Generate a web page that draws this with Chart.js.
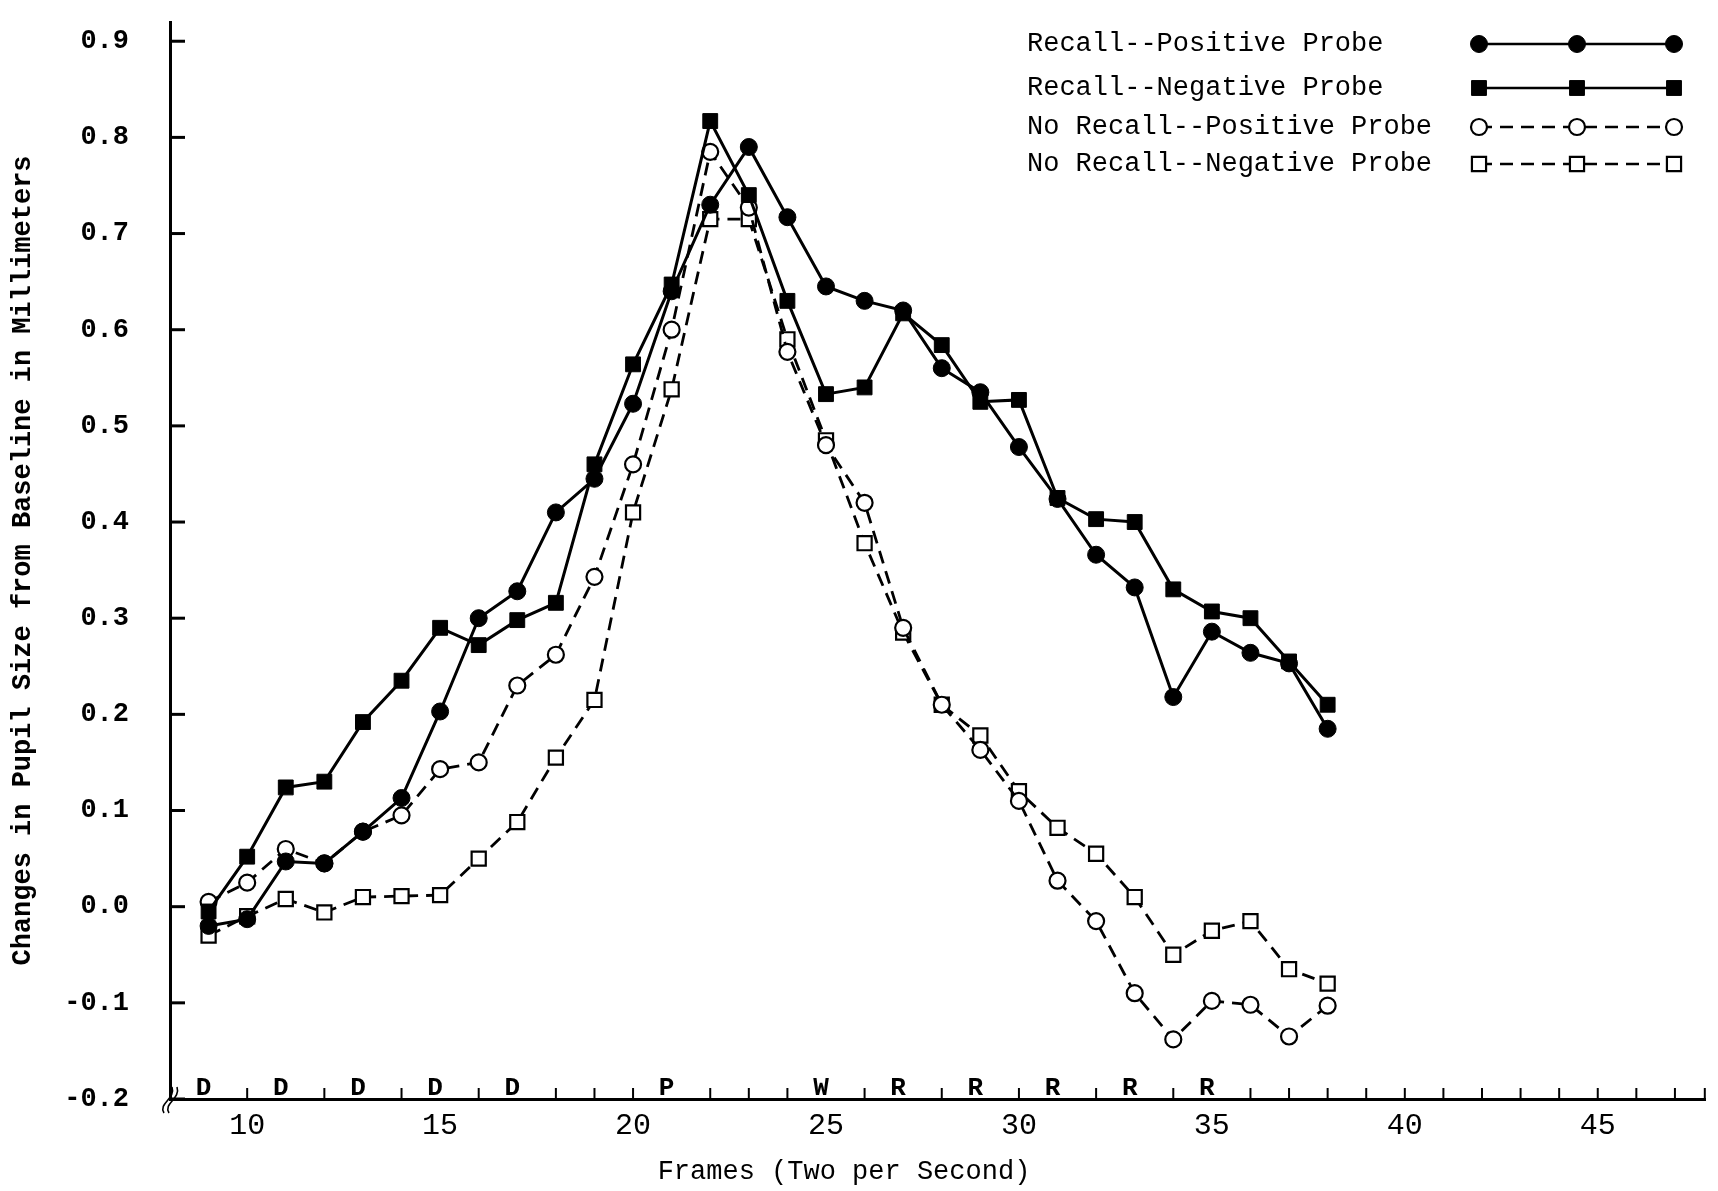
<!DOCTYPE html>
<html>
<head>
<meta charset="utf-8">
<script src="https://cdn.jsdelivr.net/npm/chart.js@4"></script>
<style>
  html, body { margin: 0; padding: 0; background: #fff; }
  canvas { display: block; }
</style>
</head>
<body>
<canvas id="myChart" width="1718" height="1191"></canvas>
<script>
const frames = [9, 10, 11, 12, 13, 14, 15, 16, 17, 18, 19, 20, 21, 22, 23, 24, 25, 26, 27, 28, 29, 30, 31, 32, 33, 34, 35, 36, 37, 38];

const recallPos = [-0.02, -0.013, 0.047, 0.045, 0.078, 0.113, 0.203, 0.30, 0.328, 0.41, 0.445, 0.523, 0.64, 0.73, 0.79, 0.717, 0.645, 0.63, 0.62, 0.56, 0.535, 0.478, 0.424, 0.366, 0.332, 0.218, 0.286, 0.264, 0.253, 0.185];
const recallNeg = [-0.005, 0.052, 0.124, 0.13, 0.192, 0.235, 0.29, 0.272, 0.298, 0.316, 0.46, 0.564, 0.647, 0.817, 0.74, 0.63, 0.533, 0.54, 0.617, 0.584, 0.525, 0.527, 0.425, 0.403, 0.40, 0.33, 0.307, 0.30, 0.255, 0.21];
const noRecallPos = [0.005, 0.025, 0.06, 0.045, 0.078, 0.095, 0.143, 0.15, 0.23, 0.262, 0.343, 0.46, 0.60, 0.785, 0.727, 0.577, 0.48, 0.42, 0.29, 0.21, 0.163, 0.11, 0.027, -0.015, -0.09, -0.138, -0.098, -0.102, -0.135, -0.103];
const noRecallNeg = [-0.03, -0.01, 0.008, -0.006, 0.01, 0.011, 0.012, 0.05, 0.088, 0.155, 0.215, 0.41, 0.538, 0.715, 0.715, 0.59, 0.485, 0.378, 0.285, 0.21, 0.178, 0.12, 0.082, 0.055, 0.01, -0.05, -0.025, -0.015, -0.065, -0.08];

const yTickValues = [-0.2, -0.1, 0.0, 0.1, 0.2, 0.3, 0.4, 0.5, 0.6, 0.7, 0.8, 0.9];
const xTickValues = [10, 15, 20, 25, 30, 35, 40, 45];
const eventFrames = [9, 11, 13, 15, 17, 21, 25, 27, 29, 31, 33, 35];
const eventLabels = ['D', 'D', 'D', 'D', 'D', 'P', 'W', 'R', 'R', 'R', 'R', 'R'];

const seriesNames = ['Recall--Positive Probe', 'Recall--Negative Probe', 'No Recall--Positive Probe', 'No Recall--Negative Probe'];

const MONO = '"Liberation Mono", "DejaVu Sans Mono", monospace';

function points(vals) {
  return frames.map((f, i) => ({ x: f, y: vals[i] }));
}

// tick marks, event letters, axis break, x title and legend
const decor = {
  id: 'decor',
  afterDraw(chart) {
    const ctx = chart.ctx;
    const xs = chart.scales.x;
    const ys = chart.scales.y;
    const axisY = ys.getPixelForValue(-0.2);
    const axisX = xs.left;
    ctx.save();
    ctx.strokeStyle = '#000';
    ctx.fillStyle = '#000';

    // y ticks pointing inward
    ctx.lineWidth = 3;
    yTickValues.forEach(v => {
      const y = ys.getPixelForValue(v);
      ctx.beginPath();
      ctx.moveTo(axisX, y);
      ctx.lineTo(axisX + 15, y);
      ctx.stroke();
    });

    // x ticks pointing up, except where there is a letter
    ctx.lineWidth = 2;
    for (let v = 9; v <= xs.max; v++) {
      if (eventFrames.includes(v)) continue;
      const x = xs.getPixelForValue(v);
      ctx.beginPath();
      ctx.moveTo(x, axisY);
      ctx.lineTo(x, axisY - 11);
      ctx.stroke();
    }
    ctx.beginPath();
    ctx.moveTo(xs.right - 1, axisY);
    ctx.lineTo(xs.right - 1, axisY - 11);
    ctx.stroke();

    // event letters
    ctx.font = 'bold 26px ' + MONO;
    ctx.textAlign = 'center';
    ctx.textBaseline = 'alphabetic';
    eventFrames.forEach((f, i) => {
      ctx.fillText(eventLabels[i], xs.getPixelForValue(f) - 5, axisY - 4);
    });

    // axis break
    ctx.lineWidth = 1.6;
    [0, 5].forEach(dx => {
      ctx.beginPath();
      ctx.moveTo(axisX - 6 + dx, axisY + 14);
      ctx.bezierCurveTo(axisX - 12 + dx, axisY + 4, axisX + 6 + dx, axisY, axisX + 2 + dx, axisY - 12);
      ctx.stroke();
    });

    // x axis title
    ctx.font = '27px ' + MONO;
    ctx.textBaseline = 'middle';
    ctx.fillText('Frames (Two per Second)', 844, 1172);

    // legend
    const rows = [44, 88, 127, 164];
    const styles = chart.data.datasets;
    ctx.textAlign = 'left';
    rows.forEach((y, i) => {
      const ds = styles[i];
      ctx.fillStyle = '#000';
      ctx.strokeStyle = '#000';
      ctx.font = '27px ' + MONO;
      ctx.fillText(seriesNames[i], 1027, y);
      ctx.lineWidth = 2.5;
      ctx.setLineDash(ds.borderDash || []);
      ctx.beginPath();
      ctx.moveTo(1479, y);
      ctx.lineTo(1674, y);
      ctx.stroke();
      ctx.setLineDash([]);
      [1479, 1577, 1674].forEach(x => {
        ctx.fillStyle = ds.pointBackgroundColor;
        ctx.lineWidth = ds.pointBorderWidth;
        ctx.beginPath();
        if (ds.pointStyle === 'circle') {
          ctx.arc(x, y, ds.pointRadius, 0, Math.PI * 2);
        } else {
          const s = ds.pointRadius * Math.SQRT1_2;
          ctx.rect(x - s, y - s, 2 * s, 2 * s);
        }
        ctx.fill();
        ctx.stroke();
      });
    });
    ctx.restore();
  }
};

const ctx = document.getElementById('myChart');

new Chart(ctx, {
  type: 'line',
  data: {
    datasets: [
      {
        label: seriesNames[0],
        data: points(recallPos),
        borderColor: '#000',
        borderWidth: 3,
        pointStyle: 'circle',
        pointRadius: 8.5,
        pointBackgroundColor: '#000',
        pointBorderColor: '#000',
        pointBorderWidth: 1
      },
      {
        label: seriesNames[1],
        data: points(recallNeg),
        borderColor: '#000',
        borderWidth: 3,
        pointStyle: 'rect',
        pointRadius: 10.5,
        pointBackgroundColor: '#000',
        pointBorderColor: '#000',
        pointBorderWidth: 1
      },
      {
        label: seriesNames[2],
        data: points(noRecallPos),
        borderColor: '#000',
        borderWidth: 2.8,
        borderDash: [13, 8],
        pointStyle: 'circle',
        pointRadius: 8,
        pointBackgroundColor: '#fff',
        pointBorderColor: '#000',
        pointBorderWidth: 2.2
      },
      {
        label: seriesNames[3],
        data: points(noRecallNeg),
        borderColor: '#000',
        borderWidth: 2.8,
        borderDash: [13, 8],
        pointStyle: 'rect',
        pointRadius: 10,
        pointBackgroundColor: '#fff',
        pointBorderColor: '#000',
        pointBorderWidth: 2.2
      }
    ]
  },
  options: {
    responsive: false,
    animation: false,
    devicePixelRatio: 1,
    layout: { padding: { top: 22, right: 3, bottom: 3, left: 0 } },
    plugins: {
      legend: { display: false },
      tooltip: { enabled: false }
    },
    scales: {
      x: {
        type: 'linear',
        min: 8,
        max: 47.8,
        afterFit: scale => {
          scale.height = 89;
          scale.paddingLeft = 0;
          scale.paddingRight = 0;
        },
        afterBuildTicks: scale => { scale.ticks = xTickValues.map(v => ({ value: v })); },
        grid: { display: false, drawTicks: false },
        border: { display: true, color: '#000', width: 3 },
        ticks: {
          padding: 9,
          color: '#000',
          maxRotation: 0,
          autoSkip: false,
          font: { family: MONO, size: 30 },
          callback: v => String(v)
        }
      },
      y: {
        type: 'linear',
        min: -0.2,
        max: 0.92,
        afterFit: scale => {
          scale.width = 170;
          scale.paddingTop = 0;
          scale.paddingBottom = 0;
        },
        afterBuildTicks: scale => { scale.ticks = yTickValues.map(v => ({ value: v })); },
        grid: { display: false, drawTicks: false },
        border: { display: true, color: '#000', width: 3 },
        ticks: {
          padding: 41,
          color: '#000',
          font: { family: MONO, size: 27, weight: 'bold' },
          callback: v => v.toFixed(1)
        },
        title: {
          display: true,
          text: 'Changes in Pupil Size from Baseline in Millimeters',
          color: '#000',
          padding: { top: 7, bottom: 0 },
          font: { family: MONO, size: 27, weight: 'bold' }
        }
      }
    }
  },
  plugins: [decor]
});
</script>
</body>
</html>
